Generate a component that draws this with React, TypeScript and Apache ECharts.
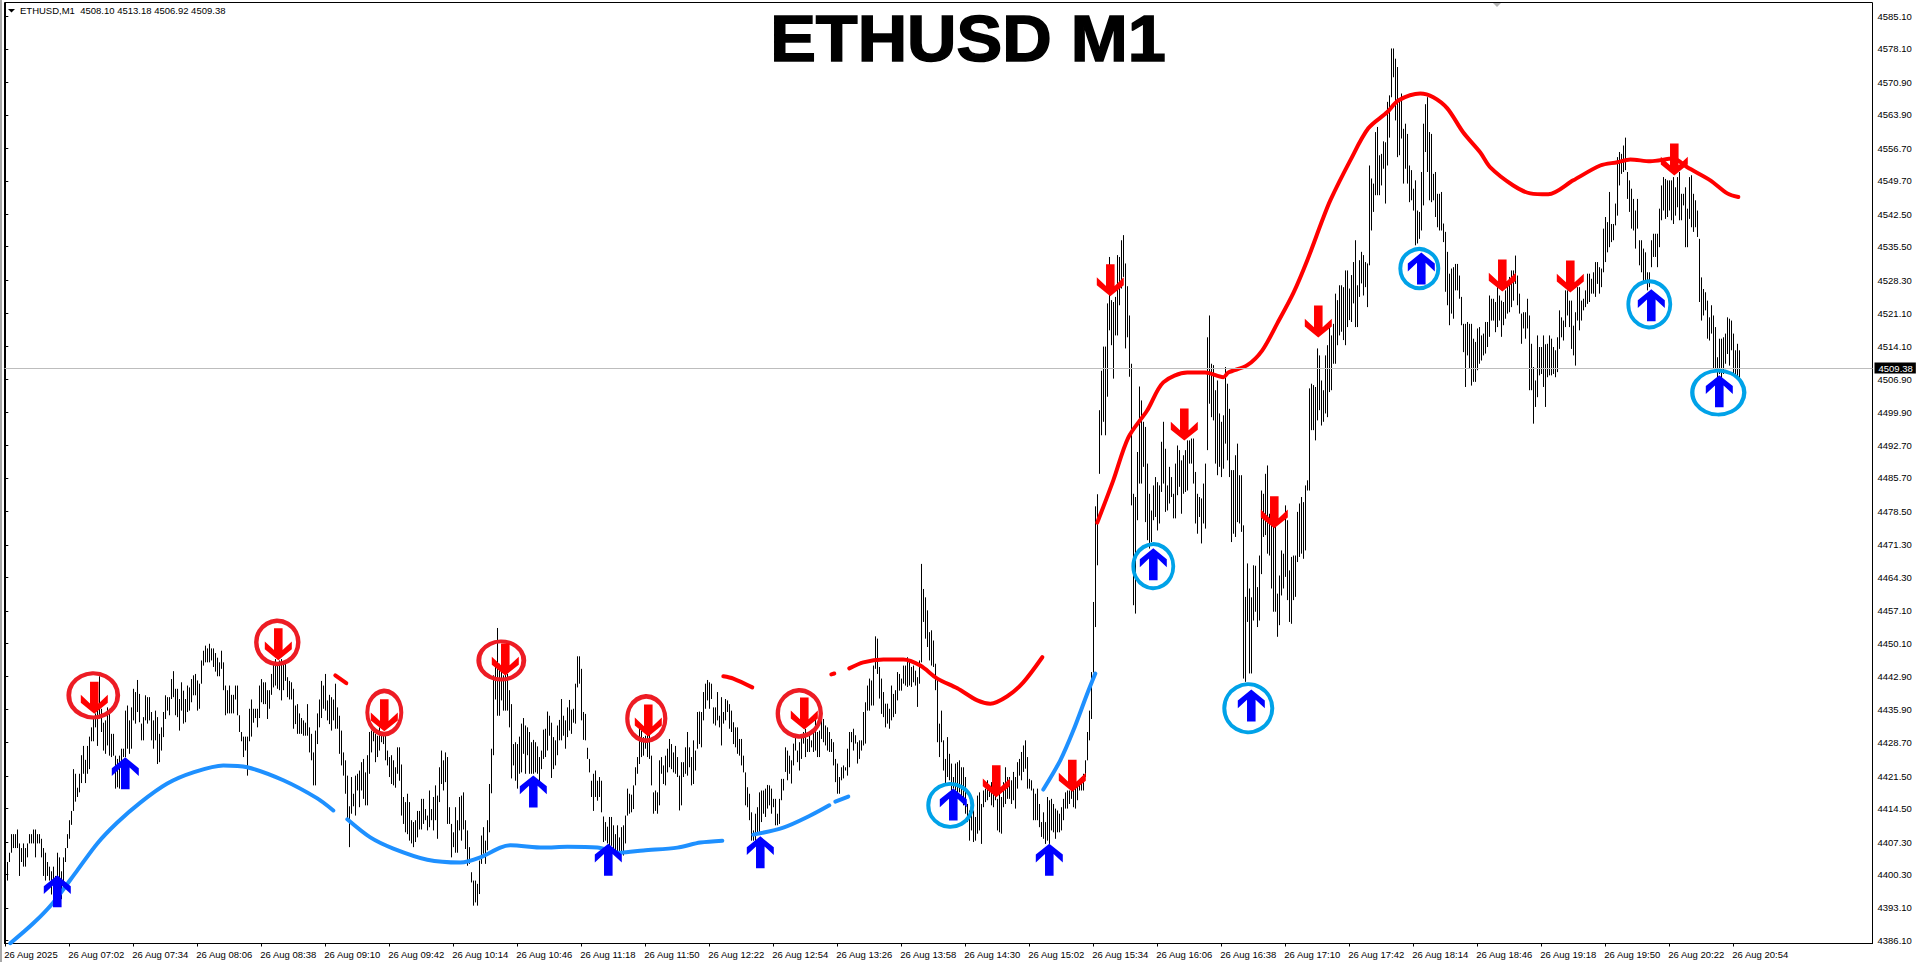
import React, { useEffect, useRef } from "react";
import * as echarts from "echarts";

const highsA = [4400,4403,4405,4409,4409,4409,4410,4407,4406,4407,4406,4407,4409,4409,4410,4410,4409,4409,4408,4406,4405,4403,4402,4401,4402,4400,4405,4404,4401,4404,4406,4409,4412,4414,4423,4422,4419,4422,4426,4428,4425,4428,4430,4432,4434,4435,4436,4443,4436,4433,
4433.5,4436.3,4436,4430.6,4430.6,4425.9,4425.2,4425.9,4427.4,4427.4,4435.6,4436.7,4433.5,4436.3,4440.3,4439.6,4442.2,4439.2,4432.8,4434.2,4438.9,4438.5,4438.5,4435.3,4433.5,4435.6,4434.2,4430.6,4432,4435.3,4438.9,4438.5,4438.5,4442.4,4444.1,4440.3,4440.3,4438.1,4441.7,4439.9,4438.1,4441,4440.6,4442.4,4443.2,4443.5,4442.1,4441.4,4446.4,4448.5];
const lowsA = [4390,4399,4403,4405,4406,4406,4406,4400,4403,4402,4402,4404,4407,4407,4407,4404,4407,4407,4404,4400,4399,4400,4399,4396,4395,4397,4398,4395,4395,4398,4403,4406,4408,4411,4414,4416,4417,4418,4420,4422,4420,4422,4423,4429,4429,4432,4428,4434,4431,4427,
4426.3,4428.1,4425.9,4425.6,4425.9,4418.8,4419.1,4418.8,4422,4425.6,4425.6,4427.4,4426.3,4427.4,4433.5,4432.8,4435.3,4433.1,4429.2,4429.2,4433.5,4432.8,4433.5,4429.2,4427.4,4429.2,4424.1,4424.5,4427,4429.9,4433.8,4435.6,4434.6,4438.1,4438.5,4434.6,4434.2,4431.3,4435.6,4432.8,4433.1,4435.3,4435.6,4437.4,4438.9,4438.9,4435.6,4436,4441.4,4445.3];
const highsB = [4449.6,4449,4450,4449,4449,4448,4447,4446,4448.5,4446,4441,4440,4441,4439,4439,4441,4441,4434.6,4431,4430,4430,4430,4436,4438,4436,4436,4436,4441,
4442.4,4441.7,4441.7,4440,4440,4443.5,4445.7,4446.7,4445.7,4446.4,4446.7,4445.7,4446,4442.8,4442,4441.7,4440.3,4436.7,4437,4435,4434,4433.5,
4433,4437,4432,4430.6,4426.6,4431.3,4435,4438,4442,4441,4443.5,4437.8,4439,4438.5,4438,4441.4,4436.3,4434.5,4431.3,4426.6,4424.9,4421.6,4415,4421.3,4417.7,4421.6,4422,4422.7,4424.5,4425.2,4422.3,4426,4431,4431.3,4432,4430.6,4430.2,4432,4431,4430.2,4430.6,4427,4425.6,4426,4424.9,4423.4,4427.7,4427.7,4424,4417];
const lowsB = [4446,4446,4446,4446.4,4445,4444,4443,4443,4444.6,4440,4434.6,4435,4435,4435,4435,4438,4434.6,4431,4429,4425.6,4427,4421.6,4429,4430,4433,4434,4432,4434,
4437.4,4437,4437,4433.8,4436,4439,4440.6,4441,4440.3,4440,4437.8,4440,4442,4438.5,4438,4438,4431.7,4432.7,4430.6,4430.6,4430.6,4430.2,
4430.2,4430.2,4426.6,4424.9,4419.5,4419.5,4428.4,4432,4434,4436,4435.6,4433.5,4432.7,4431.3,4433.5,4431.7,4431.7,4426.3,4423.8,4421.6,4417.7,4412.3,4406.2,4413.4,4415,4413,4418.4,4414.8,4418.4,4416.6,4415.2,4415.2,4422,4426.6,4429,4424.5,4425.6,4427,4428.8,4428.4,4424.9,4423.8,4421.3,4419.8,4419.5,4419,4422,4420.5,4413,4411.2];
const highsC = [4415.9,4417.7,4415.9,4412,4411.6,4412,4414,4414,4416.6,4416.6,4414.4,4413,4418.4,4414.4,4417,4419.5,4417.3,4423.4,4427,4424.9,4426.6,4425.6,4414.8,4411.2,4409.4,4414.8,4412,4417,4417.3,4418,4412,4409.8,4406.2,4400.8,4399,4399,4398.3,4403.3,4408.7,4410.5,4407.6,4412,4419.8,4427.4,4443.2,4445,4453.4,4445.7,4445,4443.2,
4443.5,4443.5,4440,4437,4428.4,4428.8,4428.4,4430,4432.8,4434,4432.4,4432,4431,4428.8,4429.3,4428.8,4427.9,4425.6,4427,4431.5,4431.7,4435.4,4434.5,4433,4429.9,4429.2,4432.4,4433.6,4438.1,4434.5,4433.5,4436.3,4437.9,4435.8,4436,4441.4,4447.3,4447.3,4444.6,4435.3,4434.9,4427.6,4425.2,4420.5,4422,4422.7,4420.5,4421.3,4420.5,4412.8];
const lowsC = [4409.4,4409,4407.6,4407,4406.2,4407.3,4408.3,4410,4410,4411.2,4412,4409.8,4410.5,4412,4409.8,4412,4408,4415.9,4419.8,4418.4,4420.2,4411.2,4411.2,4404,4406.2,4405,4405,4409.8,4407.6,4410,4405.8,4402.2,4402.6,4398.6,4393.6,4394.3,4393.6,4396.1,4402.6,4404.8,4402.6,4405.5,4409.4,4417.8,4426,4438,4434.5,4434.5,4437.8,4435.6,
4435.6,4435.6,4432,4421,4423.8,4420.5,4418.8,4422,4422.3,4426.3,4422,4426,4422,4422,4422,4422.3,4422,4420.2,4423,4425.2,4425.6,4427,4430.2,4421.1,4423,4423.8,4426,4429.2,4429.2,4430.2,4427.4,4429.9,4431.3,4430.6,4433,4432.8,4440.6,4441.4,4433.5,4429.3,4429.2,4425.2,4422.3,4417,4414,4417,4416.2,4417,4413.7,4407.3];
const highsD = [4411.6,4410.6,4412.7,4412.7,4410.9,4409,4410.9,4408.3,4410.5,4410.9,4413,4418.8,4417.7,4417.5,4419.5,4423.4,4425.6,4431.7,4431.3,4429.9,4430.2,4431.7,4430.6,4425.9,4418,4418.4,4418,4424.9,4425.6,4423.8,4425.9,4427.4,4429.5,4428.4,4426.6,4428,4425.6,4421.6,4424.5,4424.5,4427.7,4431,4427.7,4425.6,4429.2,4427,4435.3,4435.4,4435.3,4439.6,
4441.4,4442.2,4441.7,4441.4,4436.3,4436.3,4439.6,4434.5,4438.5,4435.3,4438.1,4437.8,4437,4435.6,4433.1,4432,4432,4429.5,4429.5,4425.9,4422.3,4419.1,4417.7,4413.7,4409.8,4413.4,4414.8,4418,4418.4,4418.4,4418.8,4419.6,4419.5,4418.8,4416.6,4416.6,4413.4,4416.6,4420.9,4420.9,4427.7,4427,4425.9,4424.9,4428.5,4429.9,4427,4428.8,4430.3,4431];
const lowsD = [4407.6,4407,4406.2,4406.5,4405.5,4405.5,4404.8,4405.1,4404.8,4404.4,4407,4413,4413.4,4413.7,4414.4,4419.5,4422,4424.1,4425.6,4425.9,4427.4,4425.6,4425.2,4419.5,4413.4,4414,4413.4,4415.2,4422,4419.8,4419.5,4422.3,4423.4,4423,4422.3,4422,4421.3,4414.1,4415.2,4421.3,4422,4421.6,4423.4,4419.5,4419.8,4422.7,4427.4,4428.4,4427.7,4433.5,
4436,4437.8,4436,4438.1,4432.8,4432.4,4433.5,4432,4428.1,4432.8,4433.5,4435.3,4431.7,4431,4428.4,4427.7,4426.3,4425.9,4423.8,4422.3,4415.2,4414.8,4412,4407.6,4407.6,4407.6,4409.1,4409.4,4411.6,4413.4,4412.7,4414.5,4415.2,4413.4,4414.8,4410.9,4410.9,4411.2,4416.3,4418.4,4422.4,4420.6,4422,4419.9,4423.8,4427,4424.5,4422.7,4425.2,4428.5];
const highsE = [4431.7,4429.5,4431,4429.2,4431.3,4433.8,4431,4431.3,4433.8,4433.8,4432.4,4432,4431,4429.5,4428.8,4425.2,4424.2,4421.3,4423.4,4423.8,4423.4,4427.4,4431,4431,4431.7,4430.3,4428.8,4429.2,4429.2,4435.3,4437.4,4441,4442.5,4442.1,4445.3,4451.6,4451.1,4445,4442.5,4439.6,4437.1,4437.1,4436,4441,4439.2,4440,4443.9,4443.5,4442.5,4445.3,
4445.3,4447.1,4446.4,4445,4445.3,4444.2,4442.8,4446.4,4467.2,4461.8,4460,4457.2,4452.5,4452.9,4450.7,4445.7,4442.8,4432.8,4435.6,4429.2,4425.2,4429.9,4426.3,4424.2,4421.3,4424.2,4424.5,4424.9,4423.4,4423.4,4421.3,4415.5,4414.1,4414.8,4414.1,4412.7,4417.3,4418,4415.5,4418.4,4418.8,4420.6,4419.5,4420.2,4419.8,4420.6,4416.6,4417.7,4417,4420.2];
const lowsE = [4425.6,4426.7,4426.7,4427.7,4426.7,4427,4425.6,4425.6,4429.5,4428.8,4428.1,4427,4426.7,4426.7,4423.8,4420.2,4417.7,4417.7,4420.6,4421,4422.7,4421.6,4423.4,4428.8,4427,4428.5,4424.2,4425.2,4427,4428.1,4428.5,4435.6,4435.6,4436.7,4436.7,4444.6,4443.5,4438.2,4434.9,4434.2,4432,4432.8,4431.7,4433.5,4434.2,4434.9,4437.8,4439.9,4439.9,4441.4,
4441,4440.7,4441,4440.7,4441.7,4441,4436.4,4441.4,4446,4454.7,4451.1,4449.3,4446.4,4445.3,4445,4440,4428.8,4425.6,4428.8,4422.7,4419.9,4421.3,4420.6,4418.4,4418.8,4418.4,4417,4418,4417,4415.2,4413.4,4411.6,4407.6,4409.8,4407.3,4407.6,4409.1,4409.8,4406.9,4414.8,4415.9,4416.3,4417,4415.2,4414.8,4416.3,4409.8,4409.4,4409.1,4414.8];
const highsF = [4423.4,4421.3,4421.3,4420.6,4422.4,4421.3,4424.5,4425.2,4426.7,4428.1,4429.2,4425.6,4420.9,4420.6,4418.8,4417.7,4418.8,4415.5,4411.6,4413.7,4411.6,4417,4416.3,4416.6,4415.5,4414.5,4414.1,4413.4,4414.8,4416.6,4418,4418.4,4418.4,4420.6,4421.3,4420.6,4419.8,4420.6,4421.3,4422,4424.9,4431,4435.6,4443.9,4459,4479.6,
4482.2,4500.3,4508.8,4514,4514,4523.3,4533.3,4524,4523.6,4524.7,4533.7,4533.3,4536.9,4538,4531.9,4527,4520.7,4510.3,4482.3,4481.6,4491.3,4505.4,4502.4,4497.8,4496.7,4488.8,4482.3,4478.7,4484.1,4485.9,4484.8,4484.1,4493.5,4497.8,4492,4484.1,4488.1,4485.9,4482.3,4488.8,4492.7,4491.7,4489.5,4490.6,4491.7,4493.8,4493.8,4494.2,4494.2,4487,4482.3,4481.6,4481.3];
const lowsF = [4415.5,4416.6,4416.6,4415.5,4416.3,4414.5,4418.8,4421.6,4420.6,4422.4,4423.1,4418.8,4418.8,4418.4,4412,4412,4412,4410.5,4408.4,4408,4406.9,4407.6,4406.9,4409.8,4409.4,4408,4409.4,4409.4,4409.8,4412,4414.5,4414.5,4415.5,4416.6,4414.8,4414.5,4416.3,4418.4,4418.4,4418.4,4421.3,4424.9,4429.2,4433.8,4443.8,4453.6,
4466.9,4486.6,4494.9,4497.8,4494.9,4503.2,4517.5,4514.3,4507.1,4516.4,4516.4,4522.9,4526.5,4529,4513.6,4516,4507.5,4479.8,4458.3,4456.5,4476.6,4484.5,4484.5,4488.1,4476.2,4472.3,4470.5,4471.9,4476.6,4477.3,4474.4,4475.9,4482.7,4484.5,4478.4,4478.7,4480.2,4481.6,4477,4477,4482,4483.8,4478,4482.3,4482.7,4483,4488.8,4488.8,4484.5,4475.9,4473.7,4477.3,4471.6];
const highsG = [4484.5,4488.8,4516,4520.7,4510.3,4510,4504.6,4506.7,4499.6,4497.8,4499.2,4509.6,4506,4500.6,4487.4,4487.4,4490.6,4493.1,4486.3,4486.3,4475.5,4460.1,4467.3,4461.9,4460,4466.9,4466.8,4462.2,4469,4483,4482.3,4486.6,4488.4,4478,4479.5,4475.5,4475.2,4460.8,4464.7,4470.1,4469.4,4479.8,4476.6,4465.8,4468.7,4469,4469,4478.4,4480.2,4481.6,
4480.5,4484.1,4485.2,4505,4506,4505.7,4505.3,4513.6,4512.1,4506.7,4504.6,4512.1,4514.3,4518.2,4516.4,4518.9,4525.4,4524,4527.2,4527.2,4526.8,4530.4,4530.4,4526.5,4529.4,4532.2,4536.9,4527.2,4532.6,4534.4,4533.7,4532.2,4531.9,4553,4550.2,4549.1,4560.2,4561.3,4555.2,4555.5,4558.2,4558,4566.7,4568.1,4578.2,4578.2,4576,4574.2,4566.7,4568.5];
const lowsG = [4475.9,4474.8,4491.7,4501.7,4498.8,4498.1,4488.8,4486.3,4488.1,4485.9,4487.7,4493.1,4489.5,4485.9,4471.9,4473.7,4473,4476.2,4475.9,4474.1,4442.5,4441.8,4454.7,4443.6,4443.6,4455,4456.9,4453.6,4455,4465,4473,4473.4,4469.4,4469,4461.9,4456.9,4456.9,4451.5,4454,4460.4,4461.9,4464.4,4459.4,4454.7,4454.3,4459.4,4460.1,4467.6,4468.7,4469.4,
4468.3,4470.1,4483,4483,4496,4496,4493.8,4498.1,4500.3,4497,4497.8,4499.6,4498.8,4504.2,4504.6,4510.3,4510.3,4514.3,4516.4,4517.2,4515.4,4514.3,4518.2,4519.7,4519.3,4523.3,4518.2,4518.2,4524.7,4527.6,4525,4526.8,4522.5,4531.5,4539,4543,4546.6,4546.6,4546.6,4548.7,4552.3,4544.8,4553,4559,4567.7,4572,4562.7,4554.8,4555.2,4558.8];
const highsH = [4560.9,4562,4559.8,4553,4552,4548,4549.8,4543.3,4543,4551.6,4562,4566.2,4567.7,4560.2,4559.8,4551.2,4551.6,4546.9,4546.9,4547.3,4540.5,4538.7,4534.4,4529.7,4530.8,4531.1,4531.8,4531.8,4529.3,4524.7,4518.9,4518.9,4519.3,4518.9,4518.9,4515.7,4515,4517.9,4518.2,4516.4,4516.8,4519.3,4519.3,4525,4524.3,4524.3,4523.6,4526.8,4525,4523.9,
4523.6,4526.1,4527.5,4529,4530.4,4530.4,4533.6,4529.3,4525.4,4521.1,4521.4,4521.4,4524.3,4520.7,4514.6,4509.6,4506.7,4516.4,4513.9,4513.9,4516.4,4514.5,4514.6,4516.4,4515.7,4513.9,4513.2,4516,4521.8,4520.3,4519.6,4526.1,4526.1,4523.9,4523.9,4518.5,4521.4,4526.8,4526.8,4523.9,4524.3,4526.1,4529.7,4529.7,4528.6,4530,4532.2,4532.2,4531.1,4530.8];
const lowsH = [4549.1,4552.3,4549.1,4545.1,4545.5,4543.3,4535.8,4536.2,4537.2,4539,4544.4,4555.9,4551.6,4545.5,4545.1,4545.5,4541.9,4539.7,4539,4539,4536.5,4525.8,4522.9,4518.6,4521.1,4520,4526.1,4526.1,4524.3,4518.6,4512.8,4505.3,4512.1,4509.2,4505.6,4506.4,4506.4,4508.9,4510.3,4511,4512.1,4512.5,4513.9,4516.1,4519.6,4519.6,4517.1,4518.2,4519.6,4516.1,
4518.6,4520,4521.1,4521.4,4522.5,4523.9,4527.5,4522.9,4521.1,4514.6,4517.9,4515.7,4517.9,4504.6,4504.6,4497.4,4501,4503.1,4507.8,4508.1,4505.3,4501,4507.4,4507.8,4507.8,4508.1,4507.4,4508.5,4513.5,4516,4515.3,4518.2,4520.7,4518.2,4513.5,4512.1,4509.9,4519.6,4517.5,4519.6,4521.8,4522.5,4523.2,4523.6,4525.4,4525.4,4524.7,4527.5,4525.4,4526.8];
const highsI = [4539.4,4541.9,4540.8,4547.3,4540.4,4540.4,4544.8,4554.8,4555.9,4555.5,4557.3,4559,4551.6,4549.8,4548,4545.8,4543.3,4545.8,4536.9,4536.9,4535.1,4534.3,4530,4530,4536.9,4538.3,4538.3,4538.3,4543.7,4548.7,4550.5,4550.1,4549.8,4549.8,4549.8,4550.5,4548.3,4550.5,4551.6,4546.9,4546.9,4548.3,4543.7,4550.5,4550.9,4546.9,4545.5,4543.3,4537.2,4528.9,
4526.4,4525.7,4523.9,4520.3,4522.9,4520.7,4518.2,4511.7,4515.7,4515.7,4516,4516.8,4520.3,4520,4519.6,4516.8,4513.2,4514.6,4513.2];
const lowsI = [4530,4532.2,4534.3,4535.4,4536.5,4536.9,4540.1,4542.2,4548.7,4551.2,4551.6,4552,4545.8,4543,4539.4,4539,4535.1,4539.4,4531.5,4530,4527.9,4528.2,4526.1,4526.8,4531.1,4533.3,4533.3,4531.1,4535.4,4541.2,4543.3,4541.5,4541.9,4543.3,4541.2,4540.4,4542.2,4544,4541.2,4541.2,4544.4,4535.4,4535.4,4541.5,4539.7,4538.7,4539.7,4537.6,4523.6,4519.6,
4520.7,4521.8,4515.7,4515.3,4516.8,4509.2,4508.9,4507.4,4508.1,4507.1,4508.1,4510.3,4512.4,4509.9,4513.2,4508.1,4507.4,4507.4,4506.7];

// Indicator lines: [bar number, price]
const blueA = [[2.5,4385.5],[14,4389.8],[24,4394.3],[36,4401.2],[46,4407],[56,4411.5],[67.5,4415.8],[81,4419.9],[94,4422.3],[109,4423.8],[121,4423.4],[139,4420.6],[156,4416.7],[164,4414.1]];
const blueB = [[171,4412.2],[182.5,4408.3],[194,4405.9],[211,4403.5],[227.5,4402.9],[237.5,4404],[247.5,4406.1],[252.5,4406.6],[269,4406.1],[281,4406.3],[296,4406.1],[307.5,4405],[319,4405.5],[336,4406.1],[347.5,4407.2],[358.5,4407.6]];
const blueC = [[374,4408.9],[389,4410.4],[402.5,4413],[412,4415.2]];
const blueD = [[415,4416],[421.5,4417.1]];
const blueE = [[519,4418.6],[527.5,4424.9],[534,4431.3],[541,4439.3],[545,4443.6]];
const redA = [[165,4443.2],[170.5,4441.5]];
const redB = [[359,4443],[364,4442.5],[373.5,4440.6]];
const redC = [[413,4443.4],[414.5,4443.6]];
const redD = [[422,4444.7],[429,4446],[439,4446.6],[449,4446.6],[457.5,4445.3],[466,4442.5],[476,4440.4],[486,4437.8],[492.5,4437.1],[501,4438.7],[509,4441.7],[518.5,4447.1]];
const redE = [[546,4476.1],[554,4485.2],[561.5,4494.4],[571,4500.3],[579,4506.3],[591,4508.4],[600,4508.4],[609,4507.4],[611.5,4508.4],[621,4510],[628.5,4513.2],[636,4519],[644,4525.5],[651,4532.6],[658.5,4541.2],[662.5,4545.5],[672.5,4554.1],[681.5,4561],[691,4564.5],[696.5,4567],[707.5,4568.5],[714,4567.7],[721,4565.3],[729,4560.1],[737.5,4555.8],[742.5,4552.6],[754,4548.7],[762.5,4547],[771.5,4546.8],[784,4549.8],[797.5,4553],[806,4553.7],[812.5,4554.3],[822.5,4553.9],[834,4554.5],[841,4552.6],[852.5,4549.8],[861,4547],[866.5,4546.2]];

// Signals: [bar number, price]
const upArrows = [[26,4396.7],[60,4422.1],[264,4418.2],[301.5,4403.5],[377.5,4405.1],[474,4415.4],[522,4403.5],[574,4467.1],[623,4436.7],[708,4530.8],[823,4522.9],[857,4504.4]];
const downArrows = [[44.5,4438.4],[136.5,4449.9],[189.5,4434.6],[250,4446.6],[321.5,4433.5],[399.5,4435],[495.5,4420.4],[533.5,4421.6],[552.5,4528.3],[589.5,4497.2],[634.5,4478.3],[656.5,4519.4],[748.5,4529.3],[782.5,4529.1],[834.5,4554.3]];
const redRings = [[44,4438.9],[136,4450.3],[189.5,4435.2],[248,4446.4],[320.5,4433.9],[397,4435]];
const cyanRings = [[472.5,4415.2],[574,4466.7],[621.5,4436.1],[707,4530.8],[822,4523.1],[856.5,4504.1]];
const redRingSizes = [[49,44],[42,43],[34,43],[45,38],[38,44],[43,46]];
const cyanRingSizes = [[44,43],[40,44],[48,48],[38,39],[42,46],[52,44]];

const priceTicks = [4585.1,4578.1,4570.9,4563.9,4556.7,4549.7,4542.5,4535.5,4528.3,4521.1,4514.1,4506.9,4499.9,4492.7,4485.7,4478.5,4471.3,4464.3,4457.1,4450.1,4442.9,4435.9,4428.7,4421.5,4414.5,4407.3,4400.3,4393.1,4386.1];
const timeLabels = ["26 Aug 2025","26 Aug 07:02","26 Aug 07:34","26 Aug 08:06","26 Aug 08:38","26 Aug 09:10","26 Aug 09:42","26 Aug 10:14","26 Aug 10:46","26 Aug 11:18","26 Aug 11:50","26 Aug 12:22","26 Aug 12:54","26 Aug 13:26","26 Aug 13:58","26 Aug 14:30","26 Aug 15:02","26 Aug 15:34","26 Aug 16:06","26 Aug 16:38","26 Aug 17:10","26 Aug 17:42","26 Aug 18:14","26 Aug 18:46","26 Aug 19:18","26 Aug 19:50","26 Aug 20:22","26 Aug 20:54"];
const lastPrice = 4509.38;
const headerText = "ETHUSD,M1\u00a0\u00a04508.10 4513.18 4506.92 4509.38";

const UI_FONT = "'Liberation Sans', Arial, sans-serif";
const BARS_PER_TICK = 32;
const DOWN_PATH = "path://M28 0H54V66L82 40V64L41 97L0 64V40L28 66Z";
const UP_PATH = "path://M28 97H54V31L82 57V33L41 0L0 33V57L28 31Z";

export default function App() {
  const ref = useRef<HTMLDivElement>(null);
  useEffect(() => {
    document.body.style.margin = "0";
    document.body.style.background = "#fff";
    const chart = echarts.init(ref.current!, undefined, { renderer: "svg" });
    const highs = [...highsA, ...highsB, ...highsC, ...highsD, ...highsE, ...highsF, ...highsG, ...highsH, ...highsI];
    const lows = [...lowsA, ...lowsB, ...lowsC, ...lowsD, ...lowsE, ...lowsF, ...lowsG, ...lowsH, ...lowsI];
    const bars = highs.map((h, i) => [i, lows[i] ?? h, h]);
    const line = (name: string, data: number[][], color: string) => ({
      name, type: "line", data, showSymbol: false, smooth: 0.3, z: 4, silent: true,
      lineStyle: { color, width: 4, cap: "round", join: "round" },
    });
    const lineNames: [string, number[][], string][] = [
      ["blueA", blueA, "#1e90ff"], ["blueB", blueB, "#1e90ff"], ["blueC", blueC, "#1e90ff"], ["blueD", blueD, "#1e90ff"], ["blueE", blueE, "#1e90ff"],
      ["redA", redA, "#ff0000"], ["redB", redB, "#ff0000"], ["redC", redC, "#ff0000"], ["redD", redD, "#ff0000"], ["redE", redE, "#ff0000"],
    ];
    chart.setOption({
      animation: false,
      backgroundColor: "#fff",
      grid: { left: 4.5, right: 46.5, top: 2.5, bottom: 18.5, show: true, borderColor: "#000", borderWidth: 1, backgroundColor: "#fff" },
      xAxis: {
        type: "value", min: -0.4, max: 933.6, splitLine: { show: false },
        axisLine: { show: true, lineStyle: { color: "#000" } },
        axisTick: { show: true, length: 3, lineStyle: { color: "#000" }, customValues: timeLabels.map((_, i) => i * BARS_PER_TICK) },
        axisLabel: {
          show: true, color: "#000", fontFamily: UI_FONT, fontSize: 9.5, align: "left", margin: 6, padding: [0, 0, 0, -1],
          customValues: timeLabels.map((_, i) => i * BARS_PER_TICK),
          formatter: (v: number) => timeLabels[Math.round(v / BARS_PER_TICK)] ?? "",
        },
      },
      yAxis: {
        type: "value", position: "right", min: 4385.45, max: 4588.1, scale: true, splitLine: { show: false },
        axisLine: { show: true, lineStyle: { color: "#000" } },
        axisTick: { show: true, length: 3, lineStyle: { color: "#000" }, customValues: priceTicks },
        axisLabel: {
          show: true, color: "#000", fontFamily: UI_FONT, fontSize: 9.5, margin: 5,
          customValues: priceTicks, formatter: (v: number) => v.toFixed(2),
        },
      },
      graphic: [
        { type: "rect", shape: { x: 0, y: 0, width: 2, height: 962 }, style: { fill: "#a8a8a8" }, silent: true },
        { type: "polygon", shape: { points: [[8, 9], [15, 9], [11.5, 12.5]] }, style: { fill: "#000" }, silent: true },
        { type: "text", x: 20, y: 5, style: { text: headerText, fill: "#000", font: `9.5px ${UI_FONT}` }, silent: true },
        { type: "polygon", shape: { points: [[1493, 3], [1501, 3], [1497, 7]] }, style: { fill: "#b4b4b4" }, silent: true },
        {
          type: "text", x: 968, y: 39, scaleX: 1.07, z: 20, silent: true,
          style: { text: "ETHUSD M1", fill: "#000", stroke: "#000", lineWidth: 1.5, font: `bold 64px ${UI_FONT}`, align: "center", verticalAlign: "middle" },
        },
      ],
      series: [
        {
          type: "custom", name: "bars", data: bars, encode: { x: 0, y: [1, 2] }, z: 2, silent: true,
          renderItem: (_: unknown, api: any) => {
            const a = api.coord([api.value(0), api.value(1)]);
            const b = api.coord([api.value(0), api.value(2)]);
            const x = Math.round(a[0]) + 0.5;
            return { type: "line", shape: { x1: x, y1: a[1], x2: x, y2: b[1] }, style: { stroke: "#000", lineWidth: 1 } };
          },
          markLine: {
            silent: true, symbol: "none", animation: false,
            lineStyle: { color: "#bdbdbd", width: 1, type: "solid" },
            label: {
              show: true, position: "end", distance: 2, formatter: lastPrice.toFixed(2),
              color: "#fff", backgroundColor: "#000", padding: [1, 3, 0, 4],
              fontFamily: UI_FONT, fontSize: 9.5,
            },
            data: [{ yAxis: lastPrice }],
          },
        },
        ...lineNames.map(([n, d, c]) => line(n, d, c)),
        {
          type: "scatter", name: "redRings", data: redRings.map((value, i) => ({ value, symbolSize: redRingSizes[i] })),
          symbol: "circle", z: 5, silent: true, itemStyle: { color: "rgba(0,0,0,0)", borderColor: "#ed1c24", borderWidth: 4.5, opacity: 1 },
        },
        {
          type: "scatter", name: "cyanRings", data: cyanRings.map((value, i) => ({ value, symbolSize: cyanRingSizes[i] })),
          symbol: "circle", z: 5, silent: true, itemStyle: { color: "rgba(0,0,0,0)", borderColor: "#00a2e8", borderWidth: 4, opacity: 1 },
        },
        { type: "scatter", name: "up", data: upArrows, symbol: UP_PATH, symbolSize: [27, 32], z: 6, silent: true, itemStyle: { color: "#0000ff", opacity: 1 } },
        { type: "scatter", name: "down", data: downArrows, symbol: DOWN_PATH, symbolSize: [27, 32], z: 6, silent: true, itemStyle: { color: "#ff0000", opacity: 1 } },
      ],
    });
    return () => chart.dispose();
  }, []);
  return <div ref={ref} style={{ position: "absolute", left: 0, top: 0, width: 1919, height: 962, background: "#fff" }} />;
}
